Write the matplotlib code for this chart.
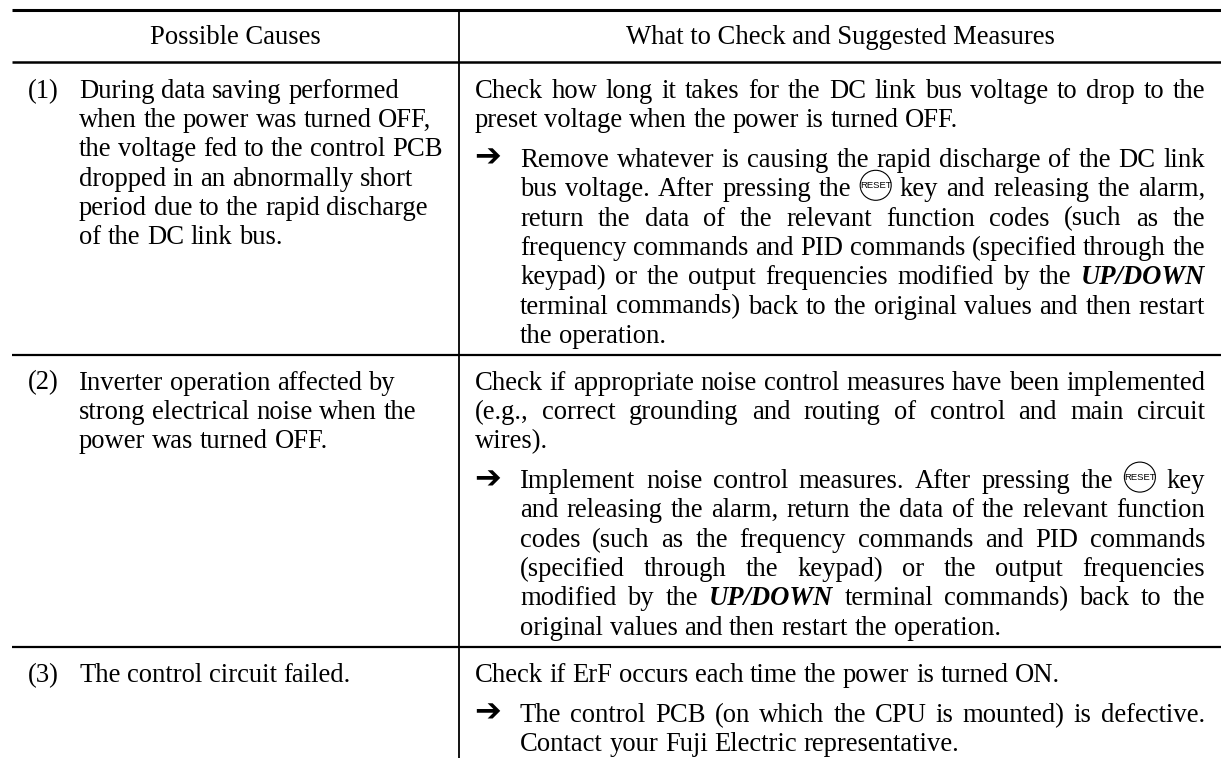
import matplotlib
matplotlib.use('Agg')
from matplotlib import pyplot as plt
from matplotlib.patches import Ellipse

W, H = 1221, 758
FONT = 'Liberation Serif'
FS = 19.2
PITCH = 29.3

header_left = 'Possible Causes'
header_right = 'What to Check and Suggested Measures'

cause_numbers = ['(1)', '(2)', '(3)']
cause_1 = ['During data saving performed',
           'when the power was turned OFF,',
           'the voltage fed to the control PCB',
           'dropped in an abnormally short',
           'period due to the rapid discharge',
           'of the DC link bus.']
cause_2 = ['Inverter operation affected by',
           'strong electrical noise when the',
           'power was turned OFF.']
cause_3 = ['The control circuit failed.']

check_1 = ['Check how long it takes for the DC link bus voltage to drop to the',
           'preset voltage when the power is turned OFF.']
measure_1 = ['Remove whatever is causing the rapid discharge of the DC link',
             'bus voltage. After pressing the [R] key and releasing the alarm,',
             'return the data of the relevant function codes (such as the',
             'frequency commands and PID commands (specified through the',
             'keypad) or the output frequencies modified by the *UP/DOWN*',
             'terminal commands) back to the original values and then restart',
             'the operation.']
check_2 = ['Check if appropriate noise control measures have been implemented',
           '(e.g., correct grounding and routing of control and main circuit',
           'wires).']
measure_2 = ['Implement noise control measures. After pressing the [R] key',
             'and releasing the alarm, return the data of the relevant function',
             'codes (such as the frequency commands and PID commands',
             '(specified through the keypad) or the output frequencies',
             'modified by the *UP/DOWN* terminal commands) back to the',
             'original values and then restart the operation.']
check_3 = ['Check if ErF occurs each time the power is turned ON.']
measure_3 = ['The control PCB (on which the CPU is mounted) is defective.',
             'Contact your Fuji Electric representative.']

fig = plt.figure(figsize=(W / 100, H / 100), dpi=100)
ax = fig.add_axes([0, 0, 1, 1])
ax.set_xlim(0, W)
ax.set_ylim(H, 0)
ax.axis('off')
rend = fig.canvas.get_renderer()


def word_width(s, **kw):
    t = ax.text(0, 0, s, family=FONT, fontsize=FS, **kw)
    w = t.get_window_extent(rend).width
    t.remove()
    return w


def draw_icon(x, y):
    # RESET key on the keypad
    ax.add_patch(Ellipse((x + 16, y - 11), 31, 30, fc='white', ec='black', lw=0.8))
    ax.text(x + 16, y - 11, 'RESET', family=['Liberation Sans Narrow', 'Liberation Sans'],
            fontsize=6.8, ha='center', va='center')


def draw_line(line, x0, x1, y, justify):
    words = line.split(' ')
    widths = []
    for w in words:
        if w == '[R]':
            widths.append(32)
        elif w.startswith('*'):
            widths.append(word_width(w.strip('*'), weight='bold', style='italic'))
        else:
            widths.append(word_width(w))
    space = word_width('a a') - word_width('aa')
    if justify and len(words) > 1:
        space = (x1 - x0 - sum(widths)) / (len(words) - 1)
    x = x0
    for w, wd in zip(words, widths):
        if w == '[R]':
            draw_icon(x, y)
        elif w.startswith('*'):
            ax.text(x, y, w.strip('*'), family=FONT, fontsize=FS, weight='bold', style='italic', va='baseline')
        else:
            ax.text(x, y, w, family=FONT, fontsize=FS, va='baseline')
        x += wd + space


def draw_para(lines, x0, x1, y, justify=True):
    for i, line in enumerate(lines):
        draw_line(line, x0, x1, y, justify and i < len(lines) - 1)
        y += PITCH
    return y


def draw_arrow(x, y):
    ax.text(x, y, '\u2794', family='DejaVu Sans', fontsize=23, weight='bold', va='baseline')


# rules
ax.plot([12, W], [9.5, 9.5], color='black', lw=2.2, solid_capstyle='butt')
ax.plot([12, W], [62.3, 62.3], color='black', lw=1.8, solid_capstyle='butt')
ax.plot([12, W], [355, 355], color='black', lw=1.6, solid_capstyle='butt')
ax.plot([12, W], [646.7, 646.7], color='black', lw=1.6, solid_capstyle='butt')
ax.plot([459, 459], [9.5, H], color='black', lw=1.3, solid_capstyle='butt')

# header
ax.text(235.5, 44, header_left, family=FONT, fontsize=FS, ha='center', va='baseline')
ax.text(840, 44, header_right, family=FONT, fontsize=FS, ha='center', va='baseline')

LEFT_NUM, LEFT_TXT, RIGHT_TXT, RIGHT_IND, RIGHT_END = 28, 79, 474.5, 520, 1205
PARA_GAP = 10.7
row_tops = [97.7, 389.5, 681.7]

for num, cause, check, measure, y in zip(cause_numbers,
                                         [cause_1, cause_2, cause_3],
                                         [check_1, check_2, check_3],
                                         [measure_1, measure_2, measure_3],
                                         row_tops):
    ax.text(LEFT_NUM, y, num, family=FONT, fontsize=FS, va='baseline')
    draw_para(cause, LEFT_TXT, 450, y, justify=False)
    y2 = draw_para(check, RIGHT_TXT, RIGHT_END, y) + PARA_GAP
    draw_arrow(RIGHT_TXT, y2)
    draw_para(measure, RIGHT_IND, RIGHT_END, y2)

fig.savefig('out.png', dpi=100)
